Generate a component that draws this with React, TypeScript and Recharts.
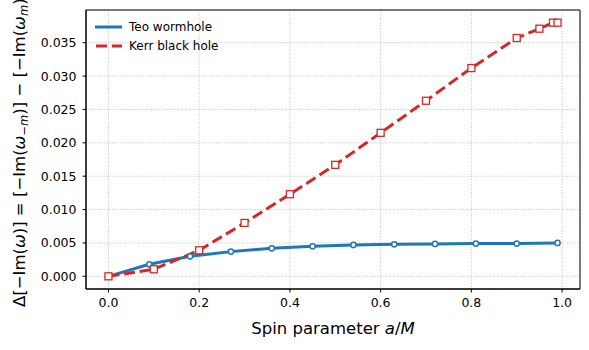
import React from 'react';
import {
  LineChart,
  Line,
  XAxis,
  YAxis,
  CartesianGrid,
  Legend,
  ReferenceArea,
} from 'recharts';

// values
const teoSpin = [0, 0.09, 0.18, 0.27, 0.36, 0.45, 0.54, 0.63, 0.72, 0.81, 0.9, 0.99];
const teoDelta = [0, 0.0018, 0.003, 0.0037, 0.0042, 0.0045, 0.0047, 0.0048, 0.00485, 0.0049, 0.0049, 0.005];

const kerrSpin = [0, 0.1, 0.2, 0.3, 0.4, 0.5, 0.6, 0.7, 0.8, 0.9, 0.95, 0.98, 0.99];
const kerrDelta = [0, 0.00105, 0.0039, 0.008, 0.0123, 0.0167, 0.0215, 0.0263, 0.0312, 0.0357, 0.0371, 0.038, 0.038];

const xTicks = [0, 0.2, 0.4, 0.6, 0.8, 1.0];
const yTicks = [0, 0.005, 0.01, 0.015, 0.02, 0.025, 0.03, 0.035];

const X_DOMAIN: [number, number] = [-0.0495, 1.0395];
const Y_DOMAIN: [number, number] = [-0.0019, 0.0399];

const BLUE = '#1f77b4';
const RED = '#d62728';
const FONT = '"DejaVu Sans", sans-serif';
const DASH = '11 4.8';

const teoData = teoSpin.map((s, i) => ({ spin: s, delta: teoDelta[i] }));
const kerrData = kerrSpin.map((s, i) => ({ spin: s, delta: kerrDelta[i] }));

const SquareDot = (props: any) => {
  const { cx, cy, index } = props;
  if (cx == null || cy == null) return null;
  return (
    <rect
      key={`sq-${index}`}
      x={cx - 3.5}
      y={cy - 3.5}
      width={7}
      height={7}
      fill="#fff"
      stroke={RED}
      strokeWidth={1.3}
    />
  );
};

const LegendBox = () => (
  <div style={{ fontFamily: FONT, fontSize: 12, color: '#000' }}>
    <div style={{ display: 'flex', alignItems: 'center', height: 19 }}>
      <svg width={36} height={8}>
        <line x1={2} y1={4} x2={29} y2={4} stroke={BLUE} strokeWidth={3} />
      </svg>
      <span>Teo wormhole</span>
    </div>
    <div style={{ display: 'flex', alignItems: 'center', height: 19 }}>
      <svg width={36} height={8}>
        <line x1={3} y1={4} x2={29} y2={4} stroke={RED} strokeWidth={3} strokeDasharray={DASH} />
      </svg>
      <span>Kerr black hole</span>
    </div>
  </div>
);

const YLabel = () => (
  <text
    transform="translate(25,149.5) rotate(-90)"
    textAnchor="middle"
    fontFamily={FONT}
    fontSize={16.5}
    fill="#000"
  >
    Δ[−Im(<tspan fontStyle="italic">ω</tspan>)] = [−Im(<tspan fontStyle="italic">ω</tspan>
    <tspan dy={3} fontSize={11.5}>−<tspan fontStyle="italic">m</tspan></tspan>
    <tspan dy={-3}>)] − [−Im(</tspan>
    <tspan fontStyle="italic">ω</tspan>
    <tspan dy={3} fontSize={11.5} fontStyle="italic">m</tspan>
    <tspan dy={-3}>)]</tspan>
  </text>
);

const XLabel = () => (
  <text x={333} y={334} textAnchor="middle" fontFamily={FONT} fontSize={16.5} fill="#000">
    Spin parameter <tspan fontStyle="italic">a</tspan>/<tspan fontStyle="italic">M</tspan>
  </text>
);

export default function App() {
  return (
    <div style={{ position: 'absolute', left: 0, top: 0, background: '#fff' }}>
      <LineChart width={589} height={350} margin={{ top: 10, right: 9, bottom: 0, left: 0 }}>
        <CartesianGrid stroke="#b0b0b0" strokeDasharray="1 1.6" strokeWidth={0.8} />
        <XAxis
          type="number"
          dataKey="spin"
          domain={X_DOMAIN}
          ticks={xTicks}
          allowDataOverflow
          height={61}
          tickSize={3.5}
          tickMargin={6}
          tickFormatter={(v: number) => v.toFixed(1)}
          tick={{ fill: '#000', fontSize: 12.5, fontFamily: FONT }}
          tickLine={{ stroke: '#000' }}
          axisLine={{ stroke: '#000' }}
          label={{ content: () => <XLabel /> }}
        />
        <YAxis
          type="number"
          domain={Y_DOMAIN}
          ticks={yTicks}
          allowDataOverflow
          width={86}
          tickSize={3.5}
          tickMargin={6}
          tickFormatter={(v: number) => v.toFixed(3)}
          tick={{ fill: '#000', fontSize: 12.5, fontFamily: FONT }}
          tickLine={{ stroke: '#000' }}
          axisLine={{ stroke: '#000' }}
          label={{ content: () => <YLabel /> }}
        />
        <ReferenceArea
          x1={X_DOMAIN[0]}
          x2={X_DOMAIN[1]}
          y1={Y_DOMAIN[0]}
          y2={Y_DOMAIN[1]}
          fill="none"
          stroke="#000"
          strokeWidth={1}
          ifOverflow="visible"
        />
        <Legend
          layout="vertical"
          align="center"
          verticalAlign="middle"
          content={() => <LegendBox />}
          wrapperStyle={{ left: 93, top: 17, width: 160 }}
        />
        <Line
          data={teoData}
          dataKey="delta"
          type="linear"
          stroke={BLUE}
          strokeWidth={3}
          dot={{ r: 2.6, fill: '#fff', stroke: BLUE, strokeWidth: 1.5 }}
          activeDot={false}
          isAnimationActive={false}
        />
        <Line
          data={kerrData}
          dataKey="delta"
          type="linear"
          stroke={RED}
          strokeWidth={3}
          strokeDasharray={DASH}
          dot={<SquareDot />}
          activeDot={false}
          isAnimationActive={false}
        />
      </LineChart>
    </div>
  );
}
